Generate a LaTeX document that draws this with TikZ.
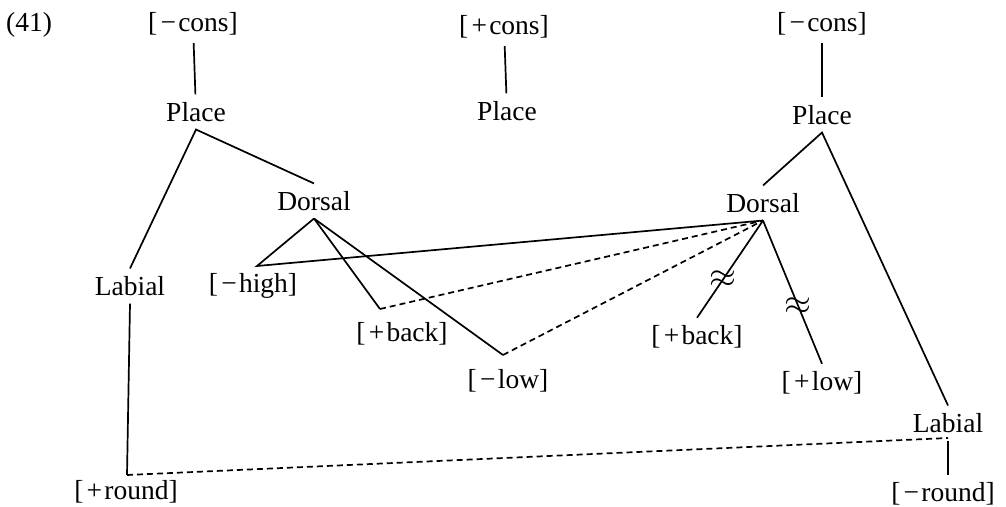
\documentclass[tikz,border=0pt]{standalone}
\usepackage{fontspec}
\setmainfont{Liberation Serif}
\usetikzlibrary{positioning}
\tikzset{feat/.style = {inner sep=3.5pt, font=\fontsize{13.75}{16}\selectfont},
         assoc/.style = {dash pattern=on 3pt off 2pt},
         cut/.style = {font=\fontsize{16}{16}\selectfont, inner sep=0pt}}
\newcommand{\fv}[2]{[\kern.12em#1\kern.08em #2]}

\begin{document}
\begin{tikzpicture}[x=0.5pt, y=-0.5pt, line width=0.85pt]
      \useasboundingbox (0,0) rectangle (1006,507);

      \node [feat] (num) at (29,25) {(41)};

      \node [feat] (lcons) at (193,24) {\fv{−}{cons}};
      \node [feat] (lplace) at (196,112) {Place};
      \node [feat] (mcons) at (504,27) {\fv{+}{cons}};
      \node [feat] (mplace) at (507,111) {Place};
      \node [feat] (rcons) at (822,24) {\fv{−}{cons}};
      \node [feat] (rplace) at (822,115) {Place};

      \node [feat] (ldor) at (314,201) {Dorsal};
      \node [feat] (rdor) at (763,203) {Dorsal};
      \node [feat] (llab) at (130,286) {Labial};
      \node [feat] (lhigh) at (253,286) {\fv{−}{high}};
      \node [feat] (lback) at (402,334) {\fv{+}{back}};
      \node [feat] (llow) at (508,381) {\fv{−}{low}};
      \node [feat] (rback) at (697,337) {\fv{+}{back}};
      \node [feat] (rlow) at (822,383) {\fv{+}{low}};
      \node [feat] (rlab) at (948,423) {Labial};
      \node [feat] (lround) at (126,492) {\fv{+}{round}};
      \node [feat] (rround) at (943,494) {\fv{−}{round}};

      \coordinate (chigh) at (257,266);
      \coordinate (cback) at (380,309);
      \coordinate (clow) at (503,355);
      \coordinate (lcorner) at (127,475);
      \coordinate (rcorner) at (948,438);

      \draw (lcons) -- (lplace);
      \draw (mcons) -- (mplace);
      \draw (rcons) -- (rplace);

      \draw (llab.north) -- (lplace.south) -- (ldor.north);
      \draw (rdor.north) -- (rplace.south) -- (rlab.north);

      \draw (ldor.south) -- (chigh) -- (rdor.south);
      \draw (ldor.south) -- (cback);
      \draw (ldor.south) -- (clow);
      \draw [assoc] (cback) -- (rdor.south);
      \draw [assoc] (clow) -- (rdor.south);

      \draw (rdor.south) -- node [cut, pos=0.6] {$\approx$} (rback.north);
      \draw (rdor.south) -- node [cut, pos=0.6] {$\approx$} (rlow.north);

      \draw (llab.south) -- (lcorner);
      \draw [assoc] (lcorner) -- (rcorner);
      \draw (rlab.south) -- (rcorner |- rround.north);
    \end{tikzpicture}
\end{document}
